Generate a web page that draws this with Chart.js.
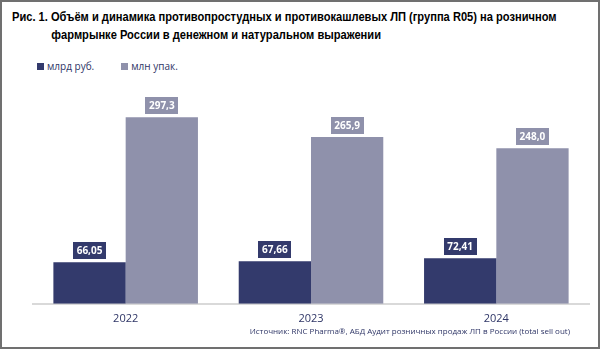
<!DOCTYPE html>
<html lang="ru">
<head>
<meta charset="utf-8">
<script src="https://cdn.jsdelivr.net/npm/chart.js@4"></script>
<style>
  html, body { margin: 0; padding: 0; background: #fff; }
  #frame {
    position: absolute; left: 0; top: 0; width: 596px; height: 345px;
    border: 2px solid #707070; overflow: hidden;
  }
  #title {
    position: absolute; left: 10px; top: 6px; white-space: nowrap;
    font-family: "Liberation Sans", Arial, sans-serif; font-weight: bold;
    font-size: 13px; line-height: 18px; color: #000;
    transform: scaleX(0.855); transform-origin: 0 0;
  }
  #title .l2 { padding-left: 46px; }
  #legend {
    position: absolute; left: 35px; top: 57px;
    font-family: "Open Sans", sans-serif; font-size: 10px; color: #2e3566;
  }
  #legend span.item { margin-right: 27px; }
  #legend i {
    display: inline-block; width: 7px; height: 7px; margin-right: 3px;
    vertical-align: 0px;
  }
  #source {
    position: absolute; right: 28px; top: 323px;
    font-family: "Open Sans", sans-serif; font-size: 8px; color: #2e3566;
  }
  #chartBox { position: absolute; left: -2px; top: 84px; width: 600px; height: 263px; }
</style>
</head>
<body>
<div id="frame">
  <div id="title">
    Рис. 1. Объём и динамика противопростудных и противокашлевых ЛП (группа R05) на розничном<br>
    <span class="l2">фармрынке России в денежном и натуральном выражении</span>
  </div>
  <div id="legend"></div>
  <div id="chartBox"><canvas id="chart"></canvas></div>
  <div id="source">Источник: RNC Pharma®, АБД Аудит розничных продаж ЛП в России (total sell out)</div>
</div>

<script>
const years = ["2022", "2023", "2024"];
const seriesNames = ["млрд руб.", "млн упак."];
const rubValues = [66.05, 67.66, 72.41];
const packValues = [297.3, 265.9, 248.0];
const seriesDecimals = [2, 1];
const seriesColors = ["#333a6c", "#8f91ab"];

// value boxes above each bar, filled with the bar colour
const valueBoxes = {
    id: "valueBoxes",
    afterDatasetsDraw(chart) {
        const ctx = chart.ctx;
        ctx.save();
        ctx.font = "bold 10px 'Open Sans', sans-serif";
        ctx.textAlign = "center";
        ctx.textBaseline = "middle";
        chart.data.datasets.forEach((ds, i) => {
            const meta = chart.getDatasetMeta(i);
            meta.data.forEach((bar, j) => {
                const text = ds.data[j].toLocaleString("ru-RU", {
                    minimumFractionDigits: seriesDecimals[i],
                    maximumFractionDigits: seriesDecimals[i]
                });
                const w = ctx.measureText(text).width + 7;
                const h = 17;
                const bottom = bar.y - 3;
                ctx.fillStyle = ds.backgroundColor;
                ctx.fillRect(Math.round(bar.x - w / 2), Math.round(bottom - h), Math.round(w), h);
                ctx.fillStyle = "#fff";
                ctx.fillText(text, bar.x, bottom - h / 2 + 0.5);
            });
        });
        ctx.restore();
    }
};

const chart = new Chart(document.getElementById("chart"), {
    type: "bar",
    data: {
        labels: years,
        datasets: [
            { label: seriesNames[0], data: rubValues, backgroundColor: seriesColors[0] },
            { label: seriesNames[1], data: packValues, backgroundColor: seriesColors[1] }
        ]
    },
    options: {
        responsive: true,
        maintainAspectRatio: false,
        animation: false,
        categoryPercentage: 0.78,
        barPercentage: 1.0,
        layout: { padding: { top: 7, left: 33, right: 11, bottom: 16 } },
        plugins: {
            legend: { display: false },
            tooltip: { enabled: false }
        },
        scales: {
            x: {
                grid: { display: false, drawTicks: false },
                border: { display: true, color: "#d9d9d9", width: 2 },
                ticks: {
                    padding: 8,
                    color: "#2e3566",
                    font: { family: "'Open Sans', sans-serif", size: 11 }
                }
            },
            y: {
                display: false,
                min: 0,
                max: 336
            }
        }
    },
    plugins: [valueBoxes]
});

// legend built from the datasets
const legend = document.getElementById("legend");
chart.data.datasets.forEach(ds => {
    const item = document.createElement("span");
    item.className = "item";
    item.innerHTML = `<i style="background:${ds.backgroundColor}"></i>${ds.label}`;
    legend.appendChild(item);
});
</script>
</body>
</html>
